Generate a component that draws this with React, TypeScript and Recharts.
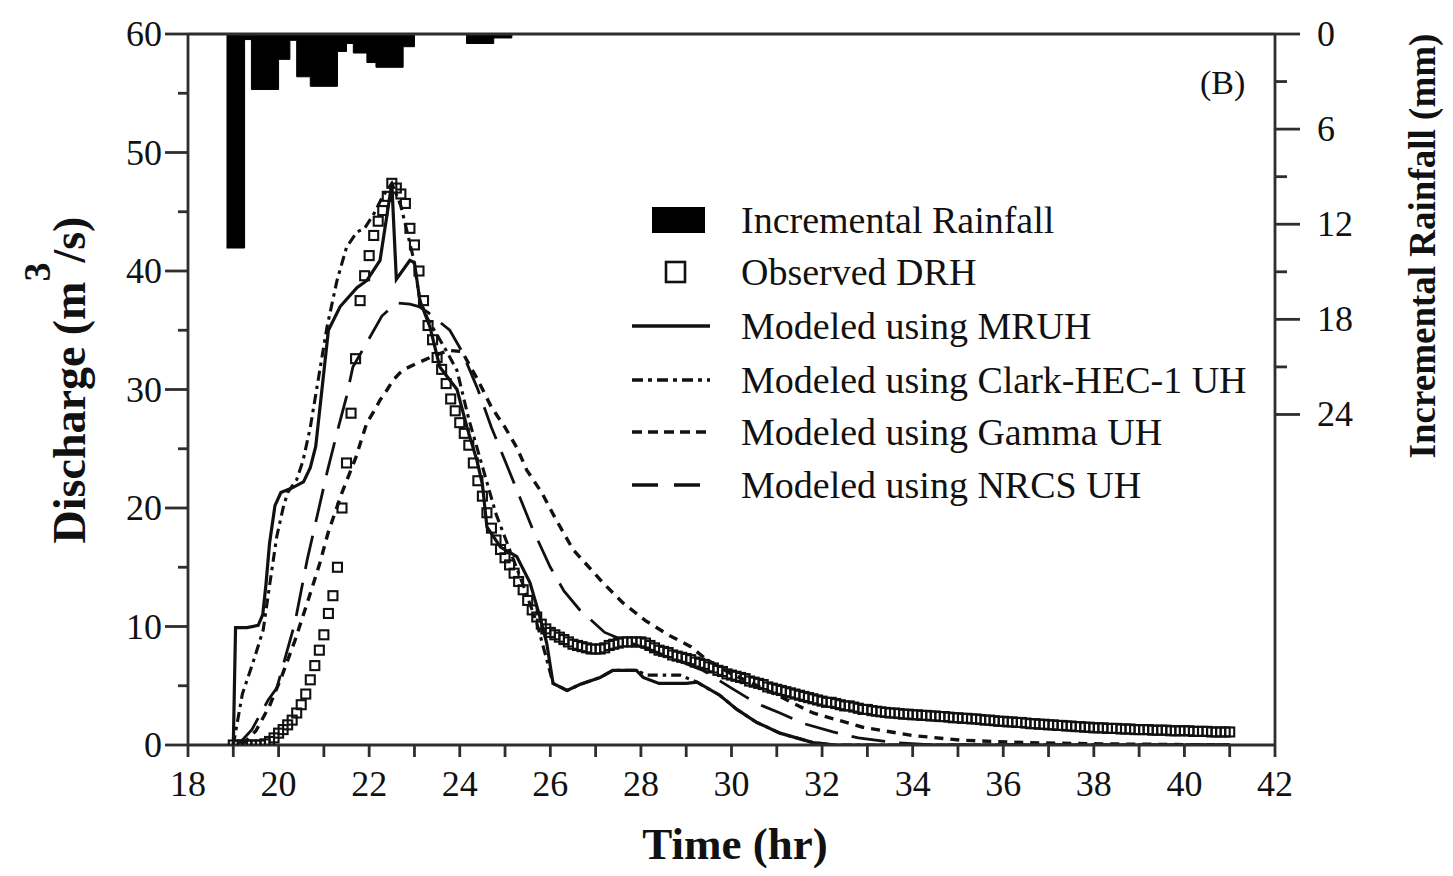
import { Area, ComposedChart, Line, ReferenceLine, Scatter, XAxis, YAxis } from 'recharts';

type Pt = [number, number];

// incremental rainfall: start of each step (hr), depth (mm)
const rainfall: Pt[] = [
  [18.85, 13.5], [19.25, 0.35], [19.4, 3.5], [20.0, 1.6], [20.25, 0.4], [20.4, 2.7],
  [20.7, 3.3], [21.3, 1.1], [21.5, 0.6], [21.65, 1.2], [21.95, 1.8], [22.15, 2.1],
  [22.75, 0.8], [23.0, 0], [24.15, 0.6], [24.75, 0.25], [25.15, 0],
];

// observed direct runoff hydrograph, every 0.1 hr from 19 hr (m3/s)
const observedStart = 19;
const observedStep = 0.1;
const observedQ = [
  0, 0, 0, 0, 0, 0, 0, 0.1, 0.3, 0.6,
  1.0, 1.3, 1.7, 2.1, 2.7, 3.4, 4.3, 5.5, 6.7, 8.0,
  9.3, 11.1, 12.6, 15.0, 20.0, 23.8, 28.0, 32.6, 37.5, 39.6,
  41.3, 43.0, 44.2, 45.1, 46.3, 47.4, 47.0, 46.5, 45.7, 43.6,
  42.2, 40.0, 37.5, 35.4, 34.2, 32.7, 31.7, 30.5, 29.2, 28.2,
  27.2, 26.3, 25.3, 23.8, 22.3, 21.0, 19.6, 18.3, 17.3, 16.5,
  15.8, 15.2, 14.5, 13.8, 13.1, 12.2, 11.4, 10.8, 10.2, 9.8,
  9.5, 9.3, 9.1, 8.9, 8.7, 8.5, 8.4, 8.3, 8.2, 8.1,
  8.1, 8.1, 8.2, 8.4, 8.5, 8.6, 8.7, 8.7, 8.7, 8.7,
  8.7, 8.6, 8.4, 8.2, 8.0, 7.9, 7.8, 7.6, 7.5, 7.4,
  7.3, 7.2, 7.0, 6.9, 6.8, 6.6, 6.5, 6.3, 6.2, 6.0,
  5.9, 5.8, 5.7, 5.6, 5.4, 5.3, 5.2, 5.1, 4.9, 4.8,
  4.7, 4.6, 4.5, 4.4, 4.3, 4.2, 4.1, 4.0, 3.9, 3.8,
  3.7, 3.6, 3.6, 3.5, 3.4, 3.3, 3.3, 3.2, 3.1, 3.0,
  3.0, 2.9, 2.85, 2.8, 2.75, 2.7, 2.7, 2.65, 2.6, 2.6,
  2.55, 2.55, 2.5, 2.5, 2.45, 2.45, 2.4, 2.4, 2.35, 2.3,
  2.3, 2.25, 2.25, 2.2, 2.2, 2.15, 2.1, 2.1, 2.05, 2.0,
  2.0, 1.95, 1.95, 1.9, 1.9, 1.85, 1.8, 1.8, 1.75, 1.75,
  1.7, 1.7, 1.65, 1.65, 1.6, 1.6, 1.55, 1.55, 1.5, 1.5,
  1.45, 1.45, 1.45, 1.4, 1.4, 1.4, 1.35, 1.35, 1.35, 1.3,
  1.3, 1.3, 1.3, 1.25, 1.25, 1.25, 1.25, 1.2, 1.2, 1.2,
  1.2, 1.2, 1.15, 1.15, 1.15, 1.15, 1.1, 1.1, 1.1, 1.1,
  1.1,
];

const mruh: Pt[] = [
  [19.0, 0], [19.05, 9.9], [19.3, 9.9], [19.55, 10.1], [19.65, 11.0], [19.72, 13.5],
  [19.8, 17.0], [19.92, 20.2], [20.05, 21.3], [20.3, 21.7], [20.55, 22.2], [20.7, 23.4],
  [20.82, 25.2], [21.1, 35.0], [21.36, 37.0], [21.73, 38.6], [21.95, 39.2], [22.24, 40.9],
  [22.5, 47.4], [22.6, 39.3], [22.9, 40.9], [23.0, 40.7], [23.12, 37.5], [23.34, 35.3],
  [23.56, 31.9], [23.94, 30.0], [24.16, 26.8], [24.38, 24.0], [24.5, 22.0], [24.6, 18.4],
  [24.9, 16.7], [25.26, 15.9], [25.55, 13.7], [25.77, 10.8], [25.92, 8.6], [26.06, 5.2],
  [26.37, 4.6], [26.65, 5.1], [27.1, 5.7], [27.38, 6.3], [27.9, 6.3], [28.05, 5.7],
  [28.4, 5.2], [29.0, 5.2], [29.24, 5.3], [29.74, 4.2], [30.12, 3.0], [30.56, 1.9],
  [31.07, 1.0], [31.8, 0.2], [32.3, 0], [41.0, 0],
];

const clark: Pt[] = [
  [19.0, 0], [19.2, 4.3], [19.43, 6.9], [19.66, 9.7], [19.81, 13.7], [19.96, 17.6],
  [20.1, 20.0], [20.2, 21.3], [20.4, 22.4], [20.54, 24.0], [20.7, 26.8], [21.07, 35.3],
  [21.29, 39.2], [21.5, 42.0], [21.73, 43.3], [21.9, 43.6], [22.1, 44.8], [22.3, 46.3],
  [22.5, 47.4], [22.7, 45.5], [22.97, 41.2], [23.12, 37.5], [23.3, 35.9], [23.7, 33.3],
  [23.94, 31.6], [24.2, 27.5], [24.5, 23.5], [24.8, 19.5], [25.1, 16.5], [25.4, 13.5],
  [25.7, 10.3], [25.9, 7.5], [26.06, 5.2], [26.37, 4.6], [26.65, 5.1], [27.1, 5.7],
  [27.38, 6.3], [27.9, 6.3], [28.13, 5.9], [28.86, 5.9], [29.24, 5.3], [29.74, 4.2],
  [30.12, 3.0], [30.56, 1.9], [31.07, 1.0], [31.8, 0.2], [32.3, 0], [41.0, 0],
];

const gamma: Pt[] = [
  [19.2, 0], [19.5, 1.2], [19.8, 3.3], [20.07, 5.8], [20.36, 8.8], [20.65, 12.2],
  [20.9, 15.2], [21.1, 18.0], [21.4, 21.3], [21.7, 24.2], [21.95, 27.2], [22.08, 28.0],
  [22.24, 29.1], [22.4, 30.0], [22.53, 30.8], [22.68, 31.4], [22.83, 31.8], [23.05, 32.2],
  [23.4, 32.8], [23.75, 33.3], [24.05, 33.2], [24.4, 30.8], [24.7, 28.5], [25.0, 26.8],
  [25.26, 25.1], [25.48, 23.2], [25.81, 21.3], [26.1, 19.2], [26.5, 16.5], [27.16, 13.7],
  [27.6, 12.0], [28.1, 10.5], [28.6, 9.3], [29.1, 8.3], [29.45, 7.2], [30.0, 6.0],
  [30.8, 4.6], [31.8, 2.7], [32.9, 1.5], [34.0, 0.8], [35.1, 0.4], [36.5, 0.2],
  [38.0, 0.1], [41.0, 0],
];

const nrcs: Pt[] = [
  [19.1, 0], [19.41, 1.3], [19.77, 3.8], [19.96, 4.8], [20.36, 10.3], [20.63, 15.6],
  [21.07, 23.0], [21.3, 26.5], [21.5, 29.4], [21.64, 31.9], [22.0, 34.3], [22.28, 36.2],
  [22.6, 37.3], [22.9, 37.2], [23.1, 37.0], [23.3, 36.5], [23.78, 35.0], [24.05, 33.2],
  [24.4, 30.0], [24.7, 26.8], [25.2, 22.1], [25.6, 18.3], [26.0, 15.0], [26.3, 13.0],
  [26.65, 11.4], [27.2, 9.5], [27.7, 8.7], [28.3, 7.9], [28.9, 7.0], [29.37, 6.3],
  [30.0, 4.8], [30.56, 3.5], [31.07, 2.7], [31.6, 1.8], [32.24, 1.1], [32.8, 0.6],
  [33.6, 0.2], [34.5, 0], [41.0, 0],
];

const timeTicks = [18, 19, 20, 21, 22, 23, 24, 25, 26, 27, 28, 29, 30, 31, 32, 33, 34, 35, 36, 37, 38, 39, 40, 41, 42];
const dischargeTicks = [0, 5, 10, 15, 20, 25, 30, 35, 40, 45, 50, 55, 60];
const rainTicks = [0, 3, 6, 9, 12, 15, 18, 21, 24];

const W = 1437;
const H = 860;
const PLOT = { left: 180, right: 1267, top: 26, bottom: 737 };
const FONT = '"Liberation Serif", "Times New Roman", Times, serif';
const INK = '#111';
const AXIS = '#2e2e2e';
const AXIS_W = 2.8;

const rows = (pts: Pt[]) => pts.map(([t, q]) => ({ t, q }));
const rainRows = rainfall.map(([t, mm]) => ({ t, mm }));
const observedRows = observedQ.map((q, i) => ({ t: observedStart + i * observedStep, q }));

function TimeTick({ x, payload }: any) {
  const v = payload.value;
  return (
    <g>
      <line x1={x} x2={x} y1={PLOT.bottom} y2={PLOT.bottom + 12} stroke={AXIS} strokeWidth={AXIS_W} />
      {v % 2 === 0 && (
        <text x={x} y={PLOT.bottom + 51} textAnchor="middle" fontFamily={FONT} fontSize={36} fill={INK}>
          {v}
        </text>
      )}
    </g>
  );
}

function DischargeTick({ y, payload }: any) {
  const v = payload.value;
  const major = v % 10 === 0;
  return (
    <g>
      <line x1={PLOT.left} x2={PLOT.left - (major ? 23 : 10)} y1={y} y2={y} stroke={AXIS} strokeWidth={AXIS_W} />
      {major && (
        <text x={PLOT.left - 26} y={y} textAnchor="end" dominantBaseline="central" fontFamily={FONT} fontSize={36} fill={INK}>
          {v}
        </text>
      )}
    </g>
  );
}

function RainTick({ y, payload }: any) {
  const v = payload.value;
  const major = v % 6 === 0;
  return (
    <g>
      <line x1={PLOT.right} x2={PLOT.right + (major ? 25 : 12)} y1={y} y2={y} stroke={AXIS} strokeWidth={AXIS_W} />
      {major && (
        <text x={PLOT.right + 42} y={y} textAnchor="start" dominantBaseline="central" fontFamily={FONT} fontSize={36} fill={INK}>
          {v}
        </text>
      )}
    </g>
  );
}

function ObservedSquare({ cx, cy }: any) {
  if (cx == null || cy == null) return <g />;
  return <rect x={cx - 4.5} y={cy - 4.5} width={9} height={9} fill="none" stroke={INK} strokeWidth={2.1} />;
}

const legendRows = [
  { y: 212, label: 'Incremental Rainfall', kind: 'bar' },
  { y: 264, label: 'Observed DRH', kind: 'square' },
  { y: 318, label: 'Modeled using MRUH', kind: 'line', dash: undefined },
  { y: 372, label: 'Modeled using Clark-HEC-1 UH', kind: 'line', dash: '11 5 4 5' },
  { y: 424, label: 'Modeled using Gamma UH', kind: 'line', dash: '10 6' },
  { y: 477, label: 'Modeled using NRCS UH', kind: 'line', dash: '26 16' },
];

export default function App() {
  return (
    <div style={{ position: 'relative', width: W, height: H }}>
      <ComposedChart width={W} height={H} margin={{ top: PLOT.top, right: 0, bottom: 0, left: 0 }}>
        <XAxis
          dataKey="t"
          type="number"
          domain={[18, 42]}
          ticks={timeTicks}
          interval={0}
          allowDataOverflow
          height={H - PLOT.bottom}
          tickLine={false}
          axisLine={{ stroke: AXIS, strokeWidth: AXIS_W }}
          tick={(props: any) => <TimeTick {...props} />}
        />
        <YAxis
          yAxisId="q"
          type="number"
          domain={[0, 60]}
          ticks={dischargeTicks}
          interval={0}
          allowDataOverflow
          width={PLOT.left}
          tickLine={false}
          axisLine={{ stroke: AXIS, strokeWidth: AXIS_W }}
          tick={(props: any) => <DischargeTick {...props} />}
        />
        <YAxis
          yAxisId="rain"
          orientation="right"
          type="number"
          reversed
          domain={[0, 44.85]}
          ticks={rainTicks}
          interval={0}
          allowDataOverflow
          width={W - PLOT.right}
          tickLine={false}
          axisLine={{ stroke: AXIS, strokeWidth: AXIS_W }}
          tick={(props: any) => <RainTick {...props} />}
        />
        <ReferenceLine yAxisId="q" y={60} stroke={AXIS} strokeWidth={AXIS_W} />
        <Area
          yAxisId="rain"
          data={rainRows}
          dataKey="mm"
          type="stepAfter"
          baseValue={0}
          fill="#000"
          fillOpacity={1}
          stroke="#000"
          strokeWidth={1}
          dot={false}
          activeDot={false}
          isAnimationActive={false}
        />
        <Line yAxisId="q" data={rows(nrcs)} dataKey="q" type="linear" stroke={INK} strokeWidth={2.8} strokeDasharray="34 14" dot={false} activeDot={false} isAnimationActive={false} />
        <Line yAxisId="q" data={rows(gamma)} dataKey="q" type="linear" stroke={INK} strokeWidth={3.4} strokeDasharray="9 7" dot={false} activeDot={false} isAnimationActive={false} />
        <Line yAxisId="q" data={rows(clark)} dataKey="q" type="linear" stroke={INK} strokeWidth={3.1} strokeDasharray="10 5 3.5 5" dot={false} activeDot={false} isAnimationActive={false} />
        <Scatter yAxisId="q" data={observedRows} dataKey="q" shape={(p: any) => <ObservedSquare {...p} />} isAnimationActive={false} />
        <Line yAxisId="q" data={rows(mruh)} dataKey="q" type="linear" stroke={INK} strokeWidth={3.2} dot={false} activeDot={false} isAnimationActive={false} />
      </ComposedChart>

      <svg width={W} height={H} style={{ position: 'absolute', left: 0, top: 0, pointerEvents: 'none' }} fontFamily={FONT} fill={INK}>
        <text x={727} y={851} textAnchor="middle" fontSize={45} fontWeight="bold">Time (hr)</text>
        <text transform="translate(61,372) rotate(-90)" textAnchor="middle" dominantBaseline="central" fontSize={46} fontWeight="bold">
          Discharge (m<tspan dy={-32} fontSize={38}>3</tspan><tspan dy={32}>/s)</tspan>
        </text>
        <text transform="translate(1414,238) rotate(-90)" textAnchor="middle" dominantBaseline="central" fontSize={37} fontWeight="bold">
          Incremental Rainfall (mm)
        </text>
        <text x={1192} y={74} dominantBaseline="central" fontSize={34}>(B)</text>

        {legendRows.map((r) => (
          <g key={r.label}>
            {r.kind === 'bar' && <rect x={644} y={r.y - 13} width={53} height={26} fill="#000" />}
            {r.kind === 'square' && <rect x={658} y={r.y - 10} width={19} height={20} fill="none" stroke={INK} strokeWidth={2.6} />}
            {r.kind === 'line' && (
              <line x1={624} x2={702} y1={r.y} y2={r.y} stroke={INK} strokeWidth={3.4} strokeDasharray={r.dash} />
            )}
            <text x={733} y={r.y} dominantBaseline="central" fontSize={38}>{r.label}</text>
          </g>
        ))}
      </svg>
    </div>
  );
}
